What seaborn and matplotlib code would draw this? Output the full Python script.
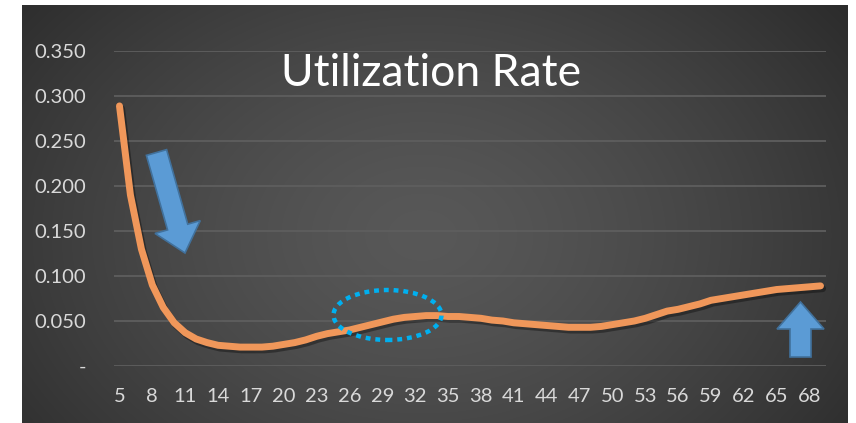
import numpy as np
import pandas as pd
import matplotlib
matplotlib.use("Agg")
import matplotlib.pyplot as plt
import matplotlib.patheffects as pe
from matplotlib.patches import Polygon, Ellipse
import seaborn as sns

# ----------------------------
# Data
# ----------------------------
days = list(range(5, 70))
rate = [0.289, 0.190, 0.130, 0.090, 0.065, 0.048, 0.037, 0.030, 0.026, 0.023,
        0.022, 0.021, 0.021, 0.021, 0.022, 0.024, 0.026, 0.029, 0.033, 0.036,
        0.038, 0.040, 0.043, 0.046, 0.049, 0.052, 0.054, 0.055, 0.056, 0.056,
        0.055, 0.055, 0.054, 0.053, 0.051, 0.050, 0.048, 0.047, 0.046, 0.045,
        0.044, 0.043, 0.043, 0.043, 0.044, 0.046, 0.048, 0.050, 0.053, 0.057,
        0.061, 0.063, 0.066, 0.069, 0.073, 0.075, 0.077, 0.079, 0.081, 0.083,
        0.085, 0.086, 0.087, 0.088, 0.089]
x_ticks = list(range(5, 70, 3))
y_ticks = [0.0, 0.05, 0.10, 0.15, 0.20, 0.25, 0.30, 0.35]
y_labels = ["-" if v == 0 else f"{v:.3f}" for v in y_ticks]

df = pd.DataFrame({"day": days, "rate": rate})

W, H = 856, 423
sns.set_style("white")
plt.rcParams["font.family"] = ["Lato", "DejaVu Sans"]

fig = plt.figure(figsize=(W / 100, H / 100), dpi=100, facecolor="white")

# ----------------------------
# Dark radial-gradient background
# ----------------------------
bg = fig.add_axes([22 / W, 0, 826 / W, 418 / H])
gy, gx = np.mgrid[0:418, 0:826]
r = np.sqrt(((gx - 400) / 520) ** 2 + ((gy - 230) / 380) ** 2)
r = np.clip(r, 0, 1)
shade = 0.345 - 0.17 * r ** 1.4
img = np.dstack([shade, shade, shade])
bg.imshow(img, aspect="auto", interpolation="bilinear")
bg.set_axis_off()

# ----------------------------
# Main plot
# ----------------------------
ax = fig.add_axes([114 / W, 1 - 366 / H, 712 / W, 315 / H])
ax.patch.set_alpha(0)
sns.lineplot(data=df, x="day", y="rate", ax=ax, color="#F0975A", linewidth=5,
             solid_capstyle="round",
             path_effects=[pe.SimpleLineShadow(offset=(1.5, -2), shadow_color="black", alpha=0.35),
                           pe.Normal()])
ax.set_xlim(4.5, 69.5)
ax.set_ylim(0, 0.35)
ax.set_xticks(x_ticks)
ax.set_yticks(y_ticks)
ax.set_yticklabels(y_labels)
ax.tick_params(axis="both", length=0, colors="#D9D9D9", labelsize=14.5)
ax.tick_params(axis="y", pad=20)
ax.tick_params(axis="x", pad=16)
ax.yaxis.grid(True, color="#5E5E5E", linewidth=1.3)
ax.set_axisbelow(True)
for s in ax.spines.values():
    s.set_visible(False)
ax.set_xlabel("")
ax.set_ylabel("")

ax.text(0.445, 0.93, "Utilization Rate", transform=ax.transAxes, ha="center",
        va="center", color="white", fontsize=32)


# ----------------------------
# Annotations (pixel coords -> figure fraction)
# ----------------------------
def to_fig(pts):
    return [(x / W, 1 - y / H) for x, y in pts]


def arrow_pts(start, tip, shaft_hw, head_hw, head_len):
    s = np.array(start, float)
    t = np.array(tip, float)
    d = (t - s) / np.linalg.norm(t - s)
    n = np.array([-d[1], d[0]])
    b = t - d * head_len
    return [tuple(s + n * shaft_hw), tuple(b + n * shaft_hw), tuple(b + n * head_hw),
            tuple(t), tuple(b - n * head_hw), tuple(b - n * shaft_hw),
            tuple(s - n * shaft_hw)]


for start, tip in [((156.5, 152.5), (185, 253)), ((800.5, 357), (800.5, 302))]:
    poly = Polygon(to_fig(arrow_pts(start, tip, 10.5, 23.5, 27)), closed=True,
                   transform=fig.transFigure, facecolor="#5B9BD5",
                   edgecolor="#41719C", linewidth=1.2)
    fig.add_artist(poly)

ell = Ellipse((387.5 / W, 1 - 315 / H), 108 / W, 50 / H, transform=fig.transFigure,
              fill=False, edgecolor="#00B0F0", linewidth=3.2,
              linestyle=(0, (1.1, 1.1)))
fig.add_artist(ell)

fig.savefig("out.png", dpi=100, facecolor="white")
